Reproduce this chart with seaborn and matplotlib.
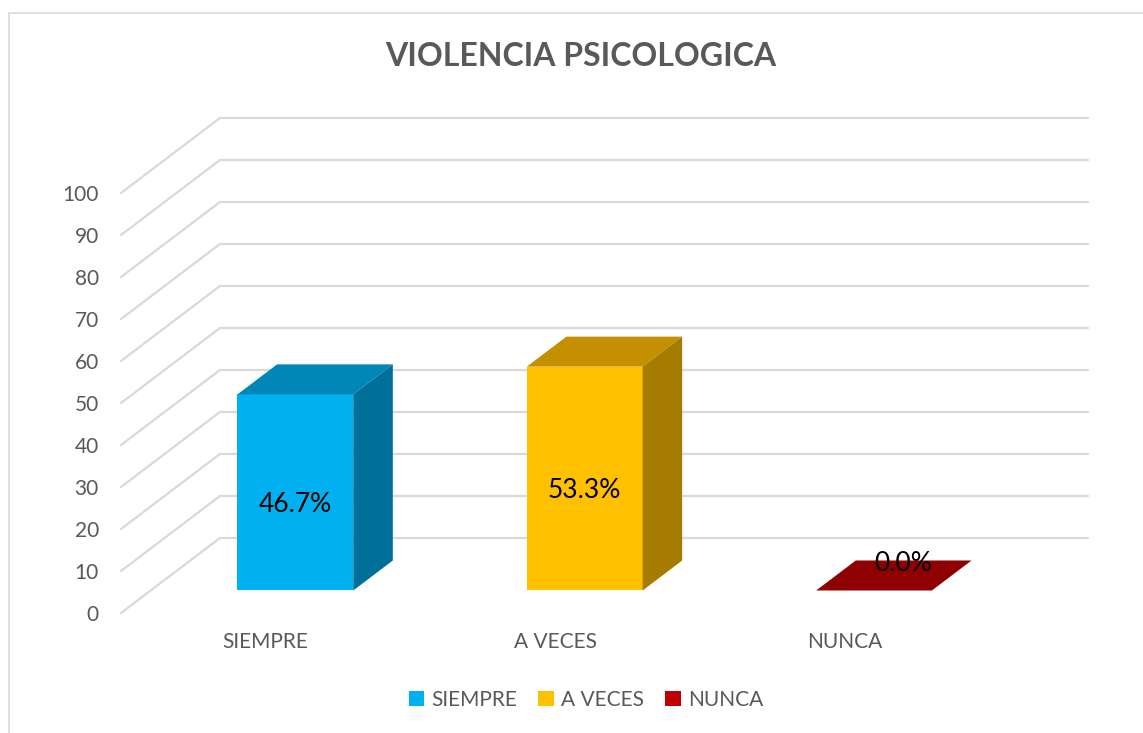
import matplotlib
matplotlib.use("Agg")
import matplotlib.pyplot as plt
import matplotlib.transforms as mtransforms
from matplotlib.patches import Polygon, Rectangle
import seaborn as sns

categorias = ["SIEMPRE", "A VECES", "NUNCA"]
porcentajes = [46.7, 53.3, 0.0]
etiquetas = ["46.7%", "53.3%", "0.0%"]
colores_frente = ["#00B0F0", "#FFC000", "#C00000"]
colores_techo = ["#0087B8", "#C49000", "#8F0000"]
colores_lado = ["#006F99", "#A67C00", "#7A0000"]
yticks = list(range(0, 101, 10))
titulo = "VIOLENCIA PSICOLOGICA"

# profundidad del "piso" 3D (en unidades de datos) y posicion de las barras en ella
DX, DY = 0.342, 17.86
F1, F2 = 0.30, 0.70
GRIS = "#595959"
LINEA = "#D9D9D9"

sns.set_theme(style="white")
plt.rcParams['font.family'] = ['Lato', 'DejaVu Sans']

fig = plt.figure(figsize=(11.43, 7.33), dpi=100)
ax = fig.add_axes([121 / 1143, 120 / 733, 967 / 1143, 495 / 733])

sns.barplot(x=categorias, y=porcentajes, hue=categorias, palette=colores_frente,
            saturation=1, width=0.4, legend=False, ax=ax, zorder=3)

ax.set_xlim(-0.5, 2.5 + DX)
ax.set_ylim(0, 100 + DY)

# pared del fondo y diagonales laterales
for v in yticks:
    ax.plot([-0.5, -0.5 + DX, 2.5 + DX], [v, v + DY, v + DY],
            color=LINEA, lw=1.6, zorder=0, clip_on=False)

desplaza = mtransforms.Affine2D().translate(F1 * DX, F1 * DY) + ax.transData
d_x, d_y = (F2 - F1) * DX, (F2 - F1) * DY
for i, p in enumerate(ax.patches[:len(categorias)]):
    p.set_transform(desplaza)
    p.set_linewidth(0)
    x0, w, h = p.get_x(), p.get_width(), p.get_height()
    x1 = x0 + w
    techo = [(x0, h), (x1, h), (x1 + d_x, h + d_y), (x0 + d_x, h + d_y)]
    ax.add_patch(Polygon(techo, closed=True, fc=colores_techo[i], lw=0,
                         transform=desplaza, zorder=3))
    if h > 0:
        lado = [(x1, 0), (x1, h), (x1 + d_x, h + d_y), (x1 + d_x, d_y)]
        ax.add_patch(Polygon(lado, closed=True, fc=colores_lado[i], lw=0,
                             transform=desplaza, zorder=3))
        ax.text(x0 + w / 2 + F1 * DX, h / 2 + F1 * DY - 2.8, etiquetas[i],
                ha="center", va="center", fontsize=19, color="black", zorder=5)
    else:
        ax.text(x0 + w / 2 + F1 * DX + 0.1, F1 * DY + 6.5, etiquetas[i],
                ha="center", va="center", fontsize=19, color="black", zorder=5)

ax.set_yticks(yticks)
ax.set_yticklabels([str(t) for t in yticks])
ax.tick_params(axis="y", length=0, pad=16, labelsize=15, labelcolor=GRIS)
ax.tick_params(axis="x", length=0, pad=14, labelsize=15, labelcolor=GRIS)
ax.set_xlabel("")
ax.set_ylabel("")
for s in ax.spines.values():
    s.set_visible(False)
ax.set_facecolor("none")

fig.text(581 / 1143, 1 - 56 / 733, titulo, ha="center", va="center",
         fontsize=23, fontweight="bold", color=GRIS)

manijas = [Rectangle((0, 0), 1, 1, fc=c, lw=0) for c in colores_frente]
fig.legend(manijas, categorias, loc="center", bbox_to_anchor=(586 / 1143, 1 - 700 / 733),
           ncol=3, frameon=False, fontsize=15, handlelength=0.75, handleheight=0.75,
           handletextpad=0.35, columnspacing=1.0, labelcolor=GRIS)

fig.patches.append(Rectangle((9 / 1143, -0.1), 1.2, (733 - 12.5) / 733 + 0.1,
                             transform=fig.transFigure, fill=False, ec=LINEA, lw=1.2))

fig.savefig("out.png", dpi=100)
